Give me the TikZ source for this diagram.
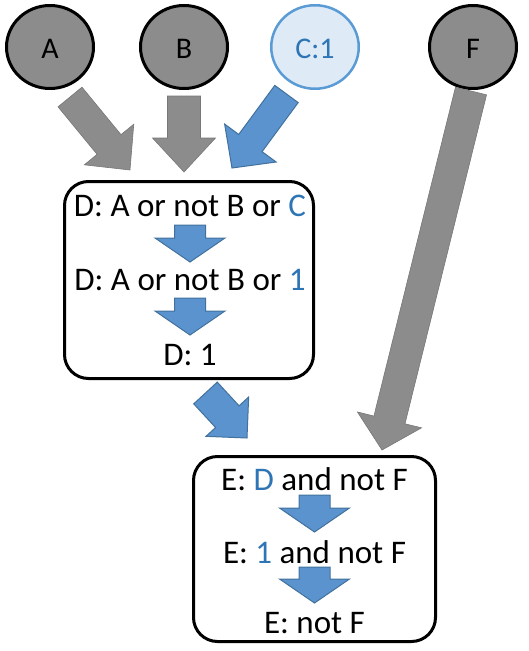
\documentclass[tikz,border=0pt]{standalone}
\usepackage{fontspec}
\setmainfont{Carlito}
\usetikzlibrary{calc,shapes.geometric}
\definecolor{gfill}{RGB}{140,140,140}
\definecolor{bfill}{RGB}{91,147,206}
\definecolor{bdark}{RGB}{65,113,156}
\definecolor{btext}{RGB}{46,117,182}
\definecolor{cfill}{RGB}{222,235,247}
\definecolor{cline}{RGB}{91,155,213}
\newcommand\blockarrow[6]{%
  \coordinate (ba-h) at ($(#3)!#6pt!(#2)$);
  \path[#1] ($(#2)!#4pt!90:(#3)$) -- ($(ba-h)!#4pt!90:(#3)$) -- ($(ba-h)!#5pt!90:(#3)$) -- (#3)
    -- ($(ba-h)!#5pt!-90:(#3)$) -- ($(ba-h)!#4pt!-90:(#3)$) -- ($(#2)!#4pt!-90:(#3)$) -- cycle;}
\tikzset{
  txt/.style={font=\fontsize{33}{35}\selectfont, inner sep=0pt, anchor=base},
  ctxt/.style={font=\fontsize{30}{32}\selectfont, inner sep=0pt, anchor=base},
  circ/.style={ellipse, draw=black, line width=3pt, fill=gfill, minimum width=87pt, minimum height=83pt, inner sep=0pt},
  ccirc/.style={ellipse, draw=cline, line width=2.5pt, fill=cfill, minimum width=87.5pt, minimum height=83.5pt, inner sep=0pt},
  box/.style={draw=black, line width=3pt, rounded corners=24pt, inner sep=0pt},
  garrow/.style={fill=gfill, draw=gfill!85!black, line width=0.6pt, line join=miter},
  barrow/.style={fill=bfill, draw=bdark, line width=1pt, line join=miter},
}
\begin{document}
\begin{tikzpicture}[x=1pt,y=-1pt]
\useasboundingbox (0,0) rectangle (529,651);
% circles
\node[circ] (A) at (50,47) {};
\node[circ] (B) at (184,47) {};
\node[ccirc] (C) at (315,47) {};
\node[circ] (F) at (473,47) {};
\node[ctxt] (tA) at (50,58) {A};
\node[ctxt] (tB) at (184,58) {B};
\node[ctxt, text=btext] (tC) at (315,58) {C:1};
\node[ctxt] (tF) at (473,58) {F};
% boxes
\node[box, minimum width=249pt, minimum height=197pt] (D) at (189,280) {};
\node[box, minimum width=242pt, minimum height=185pt] (E) at (314.5,549) {};
% texts in D
\node[txt] (d1) at (190,216.5) {D: A or not B or \textcolor{btext}{C}};
\node[txt] (d2) at (190,290) {D: A or not B or \textcolor{btext}{1}};
\node[txt] (d3) at (190,365) {D: 1};
% texts in E
\node[txt] (e1) at (314.5,490) {E: \textcolor{btext}{D} and not F};
\node[txt] (e2) at (314.5,563) {E: \textcolor{btext}{1} and not F};
\node[txt] (e3) at (314.5,633) {E: not F};
% arrow end points
\coordinate (A-s) at (70,97);   \coordinate (A-t) at (130,170);
\coordinate (B-s) at (184,96);  \coordinate (B-t) at (184,172);
\coordinate (C-s) at (286.5,94);\coordinate (C-t) at (232,168);
\coordinate (F-s) at (471,91);  \coordinate (F-t) at (382,450);
\coordinate (D-s) at (205.5,393); \coordinate (D-t) at (247,438);
\coordinate (d1-s) at (190,225); \coordinate (d1-t) at (190,262);
\coordinate (d2-s) at (190,298); \coordinate (d2-t) at (190,335);
\coordinate (e1-s) at (314.5,495); \coordinate (e1-t) at (314.5,532);
\coordinate (e2-s) at (314.5,567); \coordinate (e2-t) at (314.5,603);
% big arrows
\blockarrow{garrow}{A-s}{A-t}{15.5}{32}{33}
\blockarrow{garrow}{B-s}{B-t}{16.5}{31.5}{34}
\blockarrow{barrow}{C-s}{C-t}{14.5}{32}{31}
\blockarrow{garrow}{F-s}{F-t}{16}{33}{31}
\blockarrow{barrow}{D-s}{D-t}{16}{29}{29}
% small arrows
\blockarrow{barrow}{d1-s}{d1-t}{15.5}{35}{24}
\blockarrow{barrow}{d2-s}{d2-t}{15.5}{35}{24}
\blockarrow{barrow}{e1-s}{e1-t}{15.5}{35}{24}
\blockarrow{barrow}{e2-s}{e2-t}{15.5}{35}{24}
\end{tikzpicture}
\end{document}
